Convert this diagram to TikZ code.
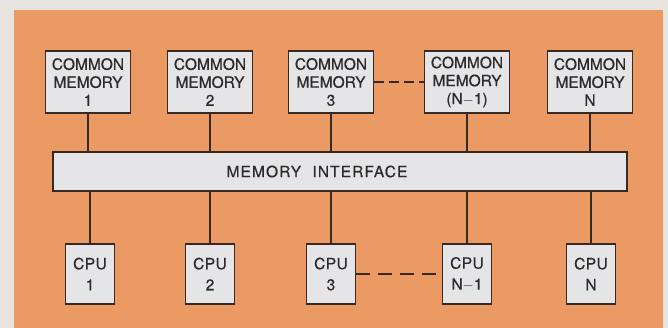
\documentclass[tikz,border=0pt]{standalone}
\usepackage{fontspec}
\setmainfont{TeX Gyre Heros}[FakeBold=0.6]
\usepackage{tikz}
\definecolor{panelorange}{RGB}{236,154,100}
\definecolor{papergrey}{RGB}{232,229,224}
\definecolor{boxgrey}{RGB}{229,229,232}
\definecolor{inkbrown}{RGB}{56,42,34}
\definecolor{textgrey}{RGB}{45,42,42}
\tikzset{
  mem box/.style={
    rectangle, draw=inkbrown, line width=1.8pt, fill=boxgrey, inner sep=0pt,
    minimum width=85pt, minimum height=62pt, align=center, text=textgrey,
    font=\fontsize{15.5}{18}\selectfont
  },
  cpu box/.style={
    rectangle, draw=inkbrown, line width=1.8pt, fill=boxgrey, inner sep=0pt,
    minimum width=49pt, minimum height=60pt, align=center, text=textgrey,
    font=\fontsize{15.5}{21}\selectfont\addfontfeature{LetterSpace=3}
  },
  bus bar/.style={
    rectangle, draw=inkbrown, line width=1.4pt, fill=boxgrey, inner sep=0pt,
    minimum width=574pt, minimum height=39pt, text=textgrey,
    font=\fontsize{15.5}{18}\selectfont\addfontfeature{LetterSpace=7}
  },
  wire/.style={draw=inkbrown, line width=1.9pt}
}

\begin{document}
\begin{tikzpicture}[x=1pt,y=-1pt]
  \useasboundingbox (0,0) rectangle (668,328);
  \fill[papergrey] (0,0) rectangle (668,328);
  \fill[panelorange] (14,10) rectangle (663,328);

% ------------------------------------------------
% 上排：公共存储器 1 ... N
% ------------------------------------------------
  \node[mem box] (m1) at ( 88,82) {COMMON\\MEMORY\\1};
  \node[mem box] (m2) at (210,82) {COMMON\\MEMORY\\2};
  \node[mem box] (m3) at (331,82) {COMMON\\MEMORY\\3};
  \node[mem box] (m4) at (467,82) {COMMON\\MEMORY\\(N$-$1)};
  \node[mem box] (m5) at (590,82) {COMMON\\MEMORY\\N};

% ------------------------------------------------
% 中间：存储器接口
% ------------------------------------------------
  \node[bus bar] (bus) at (340,171.5) {\hspace*{-46pt}MEMORY\hspace{6pt} INTERFACE};

% ------------------------------------------------
% 下排：CPU 1 ... N
% ------------------------------------------------
  \node[cpu box] (c1) at ( 90,274) {CPU\\1};
  \node[cpu box] (c2) at (210,274) {CPU\\2};
  \node[cpu box] (c3) at (331,274) {CPU\\3};
  \node[cpu box] (c4) at (467,274) {CPU\\N$-$1};
  \node[cpu box] (c5) at (591,274) {CPU\\N};

  \foreach \i in {1,...,5}{
    \draw[wire] (m\i.south) -- (m\i.south |- bus.north);
    \draw[wire] (c\i.north) -- (c\i.north |- bus.south);
  }
  \draw[wire, dash pattern=on 10pt off 5pt] (m3.east) -- (m4.west);
  \draw[wire, dash pattern=on 14pt off 8pt] (c3.east) -- (c4.west);
\end{tikzpicture}
\end{document}
